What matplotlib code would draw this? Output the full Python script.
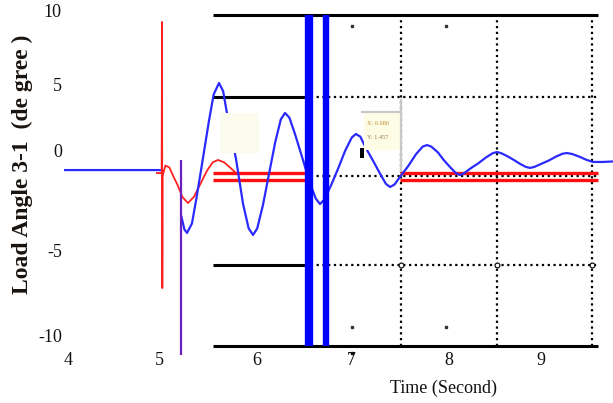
import matplotlib
matplotlib.use("Agg")
import matplotlib.pyplot as plt
from matplotlib.patches import Rectangle

plt.rcParams['font.family'] = ['Liberation Serif', 'DejaVu Serif']

nan = float('nan')

# blue trace: load angle 3-1
blue_t = [3.97, 4.97, nan, 5.20, 5.23, 5.258,
          5.31, 5.36, 5.427, 5.49, 5.54, 5.596,
          5.64, 5.70, 5.776, 5.85, 5.91, 5.956,
          6.00, 6.06, 6.125, 6.19, 6.25, 6.294,
          6.34, 6.40, 6.479, 6.56, 6.62, 6.664,
          6.71, 6.78, 6.854, 6.93, 7.00, 7.044,
          7.09, 7.15, 7.224, 7.30, 7.36, 7.404,
          7.45, 7.52, 7.60, 7.68, 7.75, 7.795,
          7.84, 7.91, 7.97, 8.04, 8.10, 8.144,
          8.19, 8.26, 8.34, 8.42, 8.49, 8.535,
          8.58, 8.65, 8.71, 8.78, 8.84, 8.884,
          8.93, 9.00, 9.08, 9.16, 9.23, 9.275,
          9.33, 9.40, 9.48, 9.55, 9.65, 9.76]
blue_v = [0.63, 0.63, nan, -2.2, -2.95, -3.17,
          -2.6, -1.0, 1.36, 3.6, 5.2, 5.89,
          5.4, 3.4, 1.3, -1.4, -2.9, -3.29,
          -2.9, -1.5, 0.4, 2.3, 3.7, 4.08,
          3.8, 2.8, 1.33, -0.2, -1.1, -1.42,
          -1.15, -0.3, 0.7, 1.8, 2.6, 2.81,
          2.65, 1.95, 1.2, 0.4, -0.2, -0.39,
          -0.25, 0.3, 0.9, 1.6, 2.05, 2.14,
          2.05, 1.7, 1.25, 0.8, 0.45, 0.33,
          0.45, 0.75, 1.05, 1.4, 1.65, 1.72,
          1.65, 1.45, 1.25, 1.0, 0.82, 0.76,
          0.82, 1.0, 1.2, 1.45, 1.62, 1.66,
          1.6, 1.45, 1.25, 1.12, 1.12, 1.15]

# red trace
red_t = [4.94, 4.99, 4.994, 4.997, 5.00, 5.03, 5.07, 5.11, 5.16, 5.21, 5.268,
         5.33, 5.40, 5.47, 5.53, 5.586, 5.65, 5.71, 5.765]
red_v = [0.45, 0.45, 9.58, -6.5, 0.3, 0.9, 0.8, 0.3, -0.3, -1.0, -1.36,
         -1.0, -0.2, 0.6, 1.1, 1.24, 1.1, 0.8, 0.51]

# red reference levels (two segments)
ref_levels = [0.45, 0.03]
ref_spans = [(5.533, 6.505), (7.51, 9.603)]

# purple spike
spike_t = 5.195
spike_range = (-10.54, 1.24)

# blue vertical markers
marker_t = [6.548, 6.727]
marker_w = [6.0, 4.6]

# frame / grid
frame_span = (5.533, 9.603)
solid_end = 6.505
hgrid_v = [10, 5.04, 0.3, -5.1, -10]
vgrid_t = [7.52, 8.535, 9.54]

xtick_vals = [4, 5, 6, 7, 8, 9]
xtick_pos = [4.0, 4.97, 5.99, 7.0, 8.03, 9.0]
ytick_labels = ['10', '5', '0', '-5', '-10']
ytick_pos = [10.18, 5.65, 1.72, -4.38, -9.46]

fig = plt.figure(figsize=(6.13, 4.03), dpi=100)
ax = fig.add_axes([0, 0, 1, 1])
ax.set_xlim(3.2812, 9.7611)
ax.set_ylim(-13.444, 10.906)
ax.axis('off')

dots = (0, (1, 1.6))

# horizontal frame lines
ax.hlines([hgrid_v[0], hgrid_v[-1]], frame_span[0], frame_span[1], color='black', lw=2.2, zorder=2)
for v in [hgrid_v[1], hgrid_v[3]]:
    ax.hlines(v, frame_span[0], solid_end, color='black', lw=2.2, zorder=2)
    ax.hlines(v, solid_end, frame_span[1], color='black', lw=1.6, linestyles=dots, zorder=2)
ax.hlines(hgrid_v[2], solid_end, frame_span[1], color='black', lw=1.6, linestyles=dots, zorder=2)
ax.vlines(vgrid_t, -10, 10, color='black', lw=1.6, linestyles=dots, zorder=2)
ax.plot(vgrid_t, [hgrid_v[3]] * 3, 'o', ms=3.5, mfc='white', mec='black', mew=0.8, zorder=3)

# small marks
for t in [7.0, 8.0]:
    ax.plot([t, t], [9.33, -8.85], 's', ms=1.8, color='#333333', zorder=3, ls='none')
ax.plot([7.0], [-10.4], 's', ms=1.8, color='black', zorder=3)

# red reference double line
for a, b in ref_spans:
    for lv in ref_levels:
        ax.hlines(lv, a, b, color='#ff1010', lw=2.4, zorder=4)

# red trace
ax.plot(red_t, red_v, color='#ff2020', lw=1.3, zorder=5)

# blue trace
ax.plot(blue_t, blue_v, color='#2a2aff', lw=1.6, zorder=6)
ax.vlines(spike_t, spike_range[0], spike_range[1], color='#6a1fc0', lw=1.6, zorder=7)

# blue vertical bars
for t, w in zip(marker_t, marker_w):
    ax.vlines(t, -10, 10, color='#0000ff', lw=w, zorder=8)

# light box over first swing
ax.add_patch(Rectangle((5.607, 1.66), 0.41, 2.42, facecolor='#fcfcee', edgecolor='none', zorder=7))

# tooltip box
ax.add_patch(Rectangle((7.13, 1.84), 0.39, 2.3, facecolor='#fdfde6', edgecolor='none', zorder=7))
ax.hlines(4.13, 7.10, 7.52, color='#c8c8c8', lw=1.6, zorder=8)
ax.vlines(7.52, 0.5, 4.9, color='#c8c8c8', lw=1.6, zorder=8)
ax.text(7.16, 3.45, 'X: 6.686', fontsize=4.5, color='#c08a30', va='center', zorder=9)
ax.text(7.16, 2.6, 'Y: 1.457', fontsize=4.5, color='#a07840', va='center', zorder=9)
ax.add_patch(Rectangle((7.087, 1.36), 0.043, 0.61, facecolor='black', zorder=9))

# tick labels
for val, t in zip(xtick_vals, xtick_pos):
    ax.text(t, -10.85, str(val), fontsize=13, ha='center', va='center', color='#111111')
for lab, v in zip(ytick_labels, ytick_pos):
    ax.text(3.935, v, lab, fontsize=13, ha='right', va='center', color='#111111')

ax.text(7.97, -12.55, 'Time (Second)', fontsize=13, ha='center', va='center', color='#111111')
ax.text(3.515, 1.0, 'Load Angle 3-1  (de gree )', fontsize=17, fontweight='bold',
        rotation=90, ha='center', va='center', color='#1a1410')

fig.savefig('out.png', dpi=100)
